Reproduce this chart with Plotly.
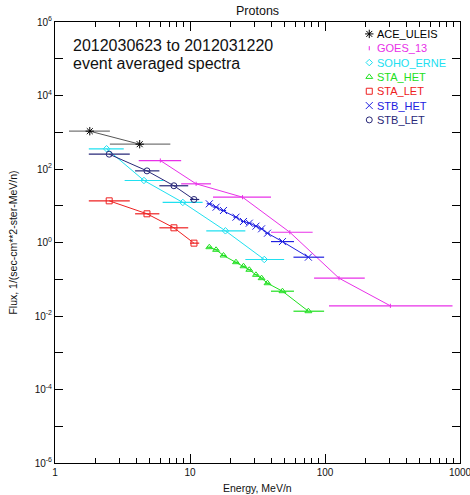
import plotly.graph_objects as go

# ---------------- data ----------------
ace_x = [1.81, 4.24]
ace_y = [1070, 473]
ace_lo = [1.27, 2.55]
ace_hi = [2.55, 7.15]

goes_x = [6.03, 11.1, 24.5, 54.9, 127, 305]
goes_y = [170, 39.5, 17.1, 1.9, 0.107, 0.0189]
goes_lo = [4.17, 8.6, 14.8, 39.8, 83, 107]
goes_hi = [8.6, 14.3, 39.8, 81, 197, 880]

soho_x = [2.41, 4.56, 8.85, 18.3, 35.5]
soho_y = [355, 48.7, 12.3, 2.08, 0.345]
soho_lo = [1.78, 3.28, 6.27, 13.2, 25.7]
soho_hi = [3.23, 6.37, 12.4, 25.7, 49.8]

het_x = [13.9, 15.6, 17.7, 21.9, 24.9, 27.5, 30.8, 33.9, 37.5, 48.4, 75.3]
het_lo = [13.3, 14.9, 16.9, 21.0, 23.9, 26.4, 29.6, 32.6, 36.0, 39.8, 58.4]
het_hi = [14.5, 16.3, 18.5, 22.8, 25.9, 28.6, 32.0, 35.2, 39.0, 58.9, 98.5]

sta_het_y = [0.745, 0.633, 0.443, 0.291, 0.226, 0.181, 0.132, 0.107, 0.078, 0.0473, 0.0135]
stb_het_y = [11.3, 9.14, 7.43, 4.88, 3.73, 3.35, 2.78, 2.36, 1.79, 1.06, 0.398]

let_x = [2.52, 4.8, 7.6, 10.7]
let_lo = [1.78, 3.92, 5.93, 10.0]
let_hi = [3.58, 5.93, 9.7, 11.7]
sta_let_y = [13.6, 6.04, 2.51, 0.96]
stb_let_y = [253, 89, 35, 14.8]

series_names = ["ACE_ULEIS", "GOES_13", "SOHO_ERNE", "STA_HET", "STA_LET", "STB_HET", "STB_LET"]
series_colors = ["#000000", "#e830e8", "#20e0f0", "#20e020", "#ee2020", "#2020e0", "#282878"]
series_symbols = ["asterisk-open", "line-ns-open", "diamond-open", "triangle-up-open",
                  "square-open", "x-thin-open", "circle-open"]
series_sizes = [7, 3, 5, 6, 6, 7, 6]

x_major = [1, 10, 100, 1000]
x_minor = [m * d for d in (1, 10, 100) for m in range(2, 10)]
y_major_exps = [-6, -4, -2, 0, 2, 4, 6]
y_minor_exps = [-5, -3, -1, 1, 3, 5]

info_lines = ["2012030623 to 2012031220", "event averaged spectra"]

series_data = [
    (ace_x, ace_y, ace_lo, ace_hi),
    (goes_x, goes_y, goes_lo, goes_hi),
    (soho_x, soho_y, soho_lo, soho_hi),
    (het_x, sta_het_y, het_lo, het_hi),
    (let_x, sta_let_y, let_lo, let_hi),
    (het_x, stb_het_y, het_lo, het_hi),
    (let_x, stb_let_y, let_lo, let_hi),
]

fig = go.Figure()
for name, col, sym, sz, (xs, ys, lo, hi) in zip(series_names, series_colors, series_symbols,
                                                 series_sizes, series_data):
    plus = [h - x for h, x in zip(hi, xs)]
    minus = [x - l for l, x in zip(lo, xs)]
    line_col = "#555555" if name == "ACE_ULEIS" else col
    fig.add_trace(go.Scatter(
        x=xs, y=ys, mode="lines+markers", name=name,
        line=dict(color=line_col, width=1),
        marker=dict(symbol=sym, size=sz, color=col, line=dict(color=col, width=1)),
        error_x=dict(type="data", array=plus, arrayminus=minus, symmetric=False,
                     color="#777777" if name == "ACE_ULEIS" else col, thickness=1.2, width=0),
        showlegend=False,
    ))

# legend (markers on an overlay axis, text as annotations)
leg_y = [0.973 - i * 0.0325 for i in range(len(series_names))]
for name, col, sym, sz, ly in zip(series_names, series_colors, series_symbols, series_sizes, leg_y):
    fig.add_trace(go.Scatter(
        x=[0.776], y=[ly], xaxis="x2", yaxis="y2", mode="markers",
        marker=dict(symbol=sym, size=sz, color=col, line=dict(color=col, width=1)),
        showlegend=False, hoverinfo="skip",
    ))
    fig.add_annotation(x=0.79, y=ly, xref="paper", yref="paper", text=name,
                       showarrow=False, xanchor="left", yanchor="middle",
                       font=dict(family="Liberation Sans", size=11, color=col))

for txt, ty in zip(info_lines, [0.9475, 0.9065]):
    fig.add_annotation(x=0.04, y=ty, xref="paper", yref="paper", text=txt,
                       showarrow=False, xanchor="left", yanchor="middle",
                       font=dict(family="Liberation Sans", size=16, color="#111111"))

# axis titles placed as annotations for precise positioning
fig.add_annotation(x=0.5, y=-0.0567, xref="paper", yref="paper", text="Energy, MeV/n",
                   showarrow=False, xanchor="center", yanchor="middle",
                   font=dict(family="Liberation Sans", size=10.5, color="#111111"))
fig.add_annotation(x=-0.106, y=0.5, xref="paper", yref="paper",
                   text="Flux, 1/(sec-cm**2-ster-MeV/n)", textangle=-90,
                   showarrow=False, xanchor="center", yanchor="middle",
                   font=dict(family="Liberation Sans", size=10.5, color="#111111"))

fig.update_layout(
    width=470, height=495,
    margin=dict(l=55, r=10, t=22, b=32),
    paper_bgcolor="white", plot_bgcolor="white",
    font=dict(family="Liberation Sans", size=10, color="#111111"),
    title=dict(text="Protons", x=0.548, xanchor="center", y=0.978, yanchor="middle",
               font=dict(family="Liberation Sans", size=12.5, color="#111111")),
    xaxis=dict(type="log", range=[0, 3], showgrid=False, zeroline=False, automargin=False,
               showline=True, linecolor="black", linewidth=1, mirror="ticks",
               ticks="inside", ticklen=9, tickcolor="black", ticklabeloverflow="allow",
               tickmode="array", tickvals=x_major, ticktext=[str(v) for v in x_major],
               minor=dict(tickmode="array", tickvals=x_minor, ticks="inside", ticklen=5,
                          tickcolor="black", showgrid=False)),
    yaxis=dict(type="log", range=[-6, 6], showgrid=False, zeroline=False, automargin=False,
               showline=True, linecolor="black", linewidth=1, mirror="ticks",
               ticks="inside", ticklen=8, tickcolor="black",
               tickmode="array", tickvals=[10.0 ** e for e in y_major_exps],
               ticktext=["10<sup>%d</sup>" % e for e in y_major_exps],
               minor=dict(tickmode="array", tickvals=[10.0 ** e for e in y_minor_exps],
                          ticks="inside", ticklen=8, tickcolor="black", showgrid=False)),
    xaxis2=dict(range=[0, 1], overlaying="x", visible=False, fixedrange=True),
    yaxis2=dict(range=[0, 1], overlaying="y", visible=False, fixedrange=True),
)

# remove the browser's default 8px body margin so the figure fills the window exactly
fig.write_html("out.html", config={"displayModeBar": False},
               post_script="document.body.style.margin='0';")
